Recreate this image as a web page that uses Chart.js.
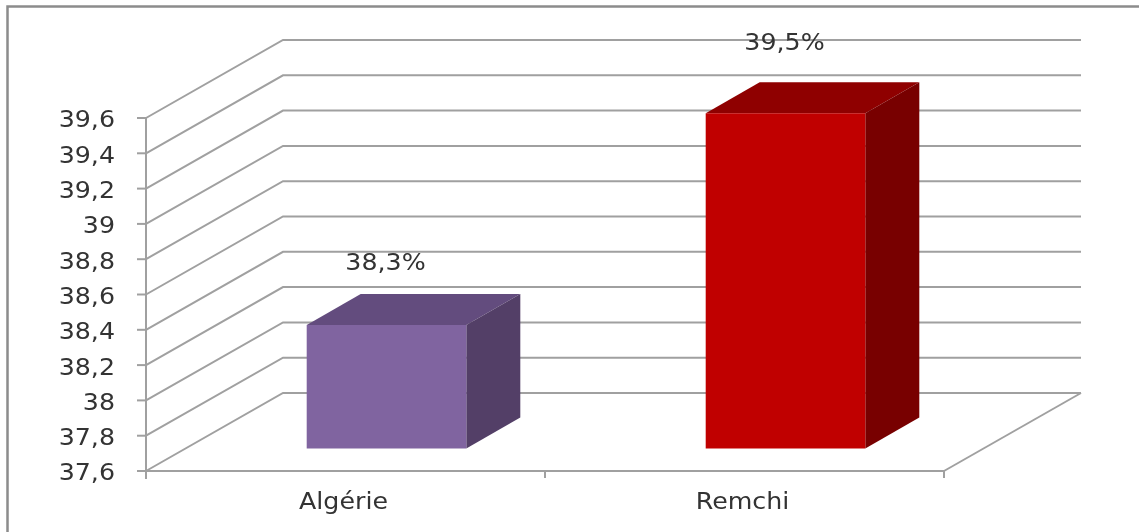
<!DOCTYPE html>
<html>
<head>
<meta charset="utf-8">
<style>
html, body { margin: 0; padding: 0; background: #fff; overflow: hidden; }
canvas { display: block; }
</style>
<script src="https://cdn.jsdelivr.net/npm/chart.js@4/dist/chart.umd.min.js"></script>
</head>
<body>
<canvas id="chart" width="1139" height="532"></canvas>
<script>
const categories = ['Algérie', 'Remchi'];
const values = [38.3, 39.5];
const valueLabels = ['38,3%', '39,5%'];
const yTicks = [37.6, 37.8, 38, 38.2, 38.4, 38.6, 38.8, 39, 39.2, 39.4, 39.6];
const frontColors = ['#8064a0', '#c00000'];
const topColors = ['#634c7e', '#8f0000'];
const sideColors = ['#533f67', '#780000'];
const labelLift = [83, 92];

const GRID = '#a0a0a0';
const TEXT = '#333333';
const FONT = '"DejaVu Sans", sans-serif';
// the picture is stretched sideways, so the text is too
const TEXT_STRETCH = 1.1;
// 3d look: wall depth, and how far the bars stand in front of the wall
const wall = { dx: 137, dy: -78 };
const barShift = { dx: 41, dy: -22.5 };
const barDepth = { dx: 54, dy: -31 };

function line(ctx, pts, color, width) {
    ctx.beginPath();
    ctx.moveTo(pts[0][0], pts[0][1]);
    pts.slice(1).forEach(p => ctx.lineTo(p[0], p[1]));
    ctx.strokeStyle = color;
    ctx.lineWidth = width;
    ctx.stroke();
}

function poly(ctx, pts, color) {
    ctx.beginPath();
    ctx.moveTo(pts[0][0], pts[0][1]);
    pts.slice(1).forEach(p => ctx.lineTo(p[0], p[1]));
    ctx.closePath();
    ctx.fillStyle = color;
    ctx.fill();
}

function text(ctx, str, x, y, align) {
    ctx.save();
    ctx.font = '23px ' + FONT;
    ctx.fillStyle = TEXT;
    ctx.textBaseline = 'middle';
    ctx.textAlign = align;
    ctx.translate(x, y);
    ctx.scale(TEXT_STRETCH, 1);
    ctx.fillText(str, 0, 0);
    ctx.restore();
}

const frame3d = {
    id: 'frame3d',
    beforeDatasetsDraw(chart) {
        const { ctx, scales, chartArea } = chart;
        const left = chartArea.left, right = chartArea.right, bottom = chartArea.bottom;
        ctx.save();
        // outer chart border, only top and left are in the picture
        line(ctx, [[7.5, 532], [7.5, 6.5], [1139, 6.5]], '#8c8c8c', 2.5);
        // wall and floor grid
        yTicks.forEach(t => {
            const y = scales.y.getPixelForValue(t);
            line(ctx, [[left, y], [left + wall.dx, y + wall.dy], [right + wall.dx, y + wall.dy]], GRID, 2);
        });
        line(ctx, [[right, bottom], [right + wall.dx, bottom + wall.dy]], GRID, 2);
        // axes and tick marks
        line(ctx, [[left, scales.y.top], [left, bottom + 8]], GRID, 2);
        line(ctx, [[left, bottom], [right, bottom]], GRID, 2);
        yTicks.forEach(t => {
            const y = scales.y.getPixelForValue(t);
            line(ctx, [[left - 9, y], [left, y]], GRID, 2);
        });
        line(ctx, [[(left + right) / 2, bottom], [(left + right) / 2, bottom + 7]], GRID, 2);
        line(ctx, [[right, bottom], [right, bottom + 7]], GRID, 2);
        ctx.restore();

        // bars sit part way back on the floor
        ctx.save();
        ctx.translate(barShift.dx, barShift.dy);
        chart.getDatasetMeta(0).data.forEach((bar, i) => {
            const p = bar.getProps(['x', 'y', 'base', 'width'], true);
            const l = p.x - p.width / 2, r = p.x + p.width / 2;
            const d = barDepth;
            poly(ctx, [[l, p.y], [l + d.dx, p.y + d.dy], [r + d.dx, p.y + d.dy], [r, p.y]], topColors[i]);
            poly(ctx, [[r, p.y], [r + d.dx, p.y + d.dy], [r + d.dx, p.base + d.dy], [r, p.base]], sideColors[i]);
        });
    },
    afterDatasetsDraw(chart) {
        const { ctx } = chart;
        ctx.restore();
        chart.getDatasetMeta(0).data.forEach((bar, i) => {
            text(ctx, valueLabels[i], bar.x + 40, bar.y - labelLift[i], 'center');
        });
    }
};

new Chart(document.getElementById('chart'), {
    type: 'bar',
    data: {
        labels: categories,
        datasets: [{
            data: values,
            base: yTicks[0],
            backgroundColor: frontColors,
            borderWidth: 0,
            barPercentage: 0.4,
            categoryPercentage: 1,
            clip: false
        }]
    },
    options: {
        responsive: false,
        animation: false,
        events: [],
        layout: { padding: { left: 146, top: 118, right: 195, bottom: 61 } },
        plugins: { legend: { display: false }, tooltip: { enabled: false }, title: { display: false } },
        scales: {
            x: {
                display: true,
                afterFit(s) { s.height = 0; },
                grid: { display: false },
                border: { display: false },
                ticks: { display: false }
            },
            y: {
                min: 37.6,
                max: 39.6,
                afterFit(s) { s.width = 0; },
                afterBuildTicks(s) { s.ticks = yTicks.map(v => ({ value: v })); },
                grid: { display: false },
                border: { display: false },
                ticks: { display: false }
            }
        }
    },
    plugins: [frame3d, {
        id: 'axisText',
        afterDraw(chart) {
            const { ctx, scales } = chart;
            yTicks.forEach(t => {
                text(ctx, String(t).replace('.', ','), 115, scales.y.getPixelForValue(t) + 3.5, 'right');
            });
            categories.forEach((c, i) => {
                text(ctx, c, scales.x.getPixelForValue(i) - 2, 503.5, 'center');
            });
        }
    }]
});
</script>
</body>
</html>
